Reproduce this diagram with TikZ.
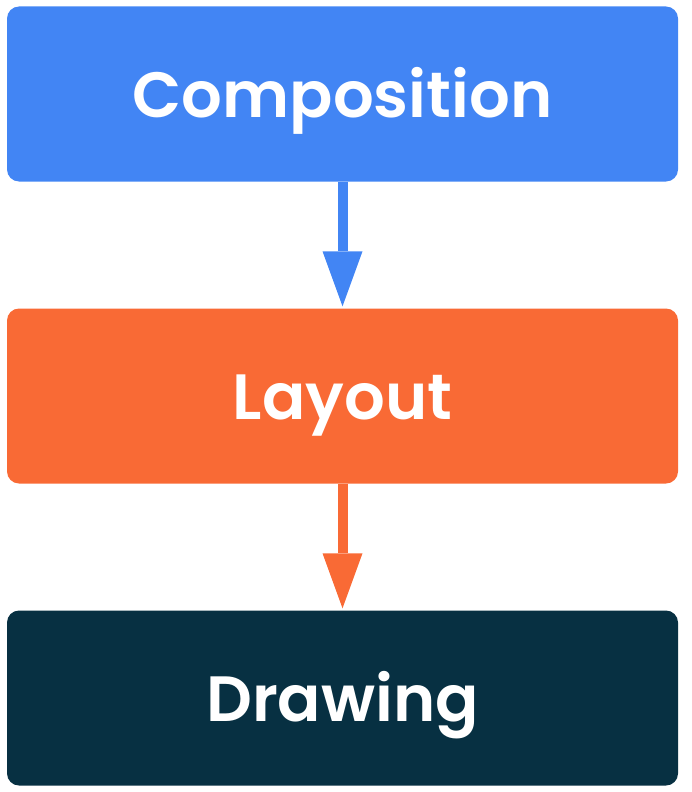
\documentclass[tikz,border=0pt]{standalone}
\usepackage{fontspec}
\setmainfont{Poppins}[BoldFont={* SemiBold}]
\usetikzlibrary{arrows.meta}
\definecolor{cblue}{HTML}{4285F4}
\definecolor{corange}{HTML}{F96A35}
\definecolor{cdark}{HTML}{073042}
\tikzset{
  stage/.style={rectangle, rounded corners=12pt, minimum width=671pt, minimum height=175pt, inner sep=0pt, text depth=0pt, text height=46pt, text=white, font=\fontsize{64}{70}\selectfont\bfseries},
  flow/.style={line width=10pt, -{Triangle[width=40pt,length=55pt,line width=0pt]}, shorten >=2pt}
}
\begin{document}
\begin{tikzpicture}[x=1pt,y=-1pt]
\useasboundingbox (0,0) rectangle (692,792);
\node[stage, fill=cblue] (comp) at (342.5,94) {Composition};
\node[stage, fill=corange] (lay) at (342.5,396) {Layout};
\node[stage, fill=cdark] (draw) at (342.5,698) {Drawing};
\draw[flow, cblue] (comp.south) -- (lay.north);
\draw[flow, corange] (lay.south) -- (draw.north);
\end{tikzpicture}
\end{document}
